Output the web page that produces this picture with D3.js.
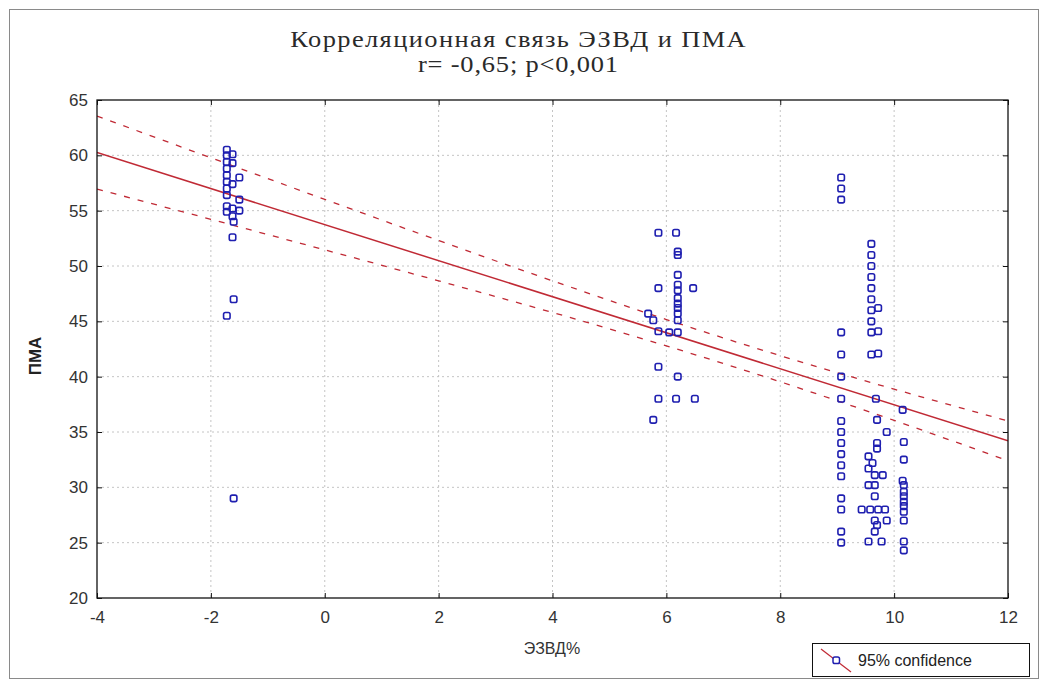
<!DOCTYPE html>
<html><head><meta charset="utf-8">
<script src="https://cdn.jsdelivr.net/npm/d3@7"></script>
<style>body{margin:0;background:#fff}svg{display:block}</style>
</head><body>
<svg id="c" width="1048" height="688"></svg>
<script>
// ---- data ----
const xTicks = [-4, -2, 0, 2, 4, 6, 8, 10, 12];
const yTicks = [20, 25, 30, 35, 40, 45, 50, 55, 60, 65];

// ЭЗВД% (x) and ПМА (y) for each observation
const ezvd = [
  -1.72,-1.62,-1.72,-1.72,-1.62,-1.72,-1.72,-1.50,-1.72,-1.62,-1.72,-1.72,-1.50,-1.72,-1.62,-1.72,-1.50,-1.62,-1.60,-1.62,-1.60,-1.72,-1.60,
  5.86,6.17,6.20,6.20,6.20,5.86,6.20,6.20,6.47,6.20,6.20,6.20,6.20,6.20,5.68,5.77,5.86,6.05,6.20,5.86,6.20,5.86,6.17,6.50,5.77,
  9.07,9.07,9.07,9.07,9.07,9.07,9.07,9.07,9.07,9.07,9.07,9.07,9.07,9.07,9.07,9.07,9.07,
  9.60,9.60,9.60,9.60,9.60,9.60,9.60,9.72,9.60,9.60,9.72,9.60,9.72,9.68,9.70,9.87,9.70,9.70,9.55,9.62,9.55,9.66,9.80,9.55,9.66,9.66,9.43,9.58,9.72,9.84,9.66,9.87,9.70,9.66,9.55,9.78,
  10.15,10.17,10.17,10.15,10.17,10.17,10.17,10.17,10.17,10.17,10.17,10.17,10.17
];
const pma = [
  60.5,60.1,60.0,59.4,59.3,58.8,58.2,58.0,57.6,57.4,57.0,56.4,56.0,55.4,55.2,54.9,55.0,54.5,54.0,52.6,47.0,45.5,29.0,
  53.0,53.0,51.3,51.0,49.2,48.0,48.3,47.8,48.0,47.1,46.6,46.2,45.7,45.1,45.7,45.1,44.1,44.0,44.0,40.9,40.0,38.0,38.0,38.0,36.1,
  58,57,56,44,42,40,38,36,35,34,33,32,31,29,28,26,25,
  52,51,50,49,48,47,46,46.2,45,44,44.1,42,42.1,38,36.1,35,34,33.5,32.8,32.2,31.7,31.1,31.1,30.2,30.2,29.2,28,28,28,28,27,27,26.6,26,25.1,25.1,
  37.0,34.1,32.5,30.6,30.2,29.6,29.2,28.7,28.3,27.8,27.0,25.1,24.3
];

// fitted regression line and 95% confidence band
const fitX = [-4, 12];
const fitY = [60.25, 34.2];
const bandX = [-4, -2, 0, 2, 4, 6, 8, 10, 12];
const bandUpper = [63.55, 59.78, 56.02, 52.30, 48.66, 45.16, 41.90, 38.87, 36.0];
const bandLower = [56.95, 54.22, 51.46, 48.66, 45.80, 42.78, 39.54, 36.05, 32.4];

const titleLine1 = "Корреляционная связь ЭЗВД и ПМА";
const titleLine2 = "r= -0,65; p<0,001";
const xLabel = "ЭЗВД%";
const yLabel = "ПМА";
const legendLabel = "95% confidence";

// ---- drawing ----
const svg = d3.select("#c");
const L = 97, R = 1008, T = 100, B = 598;
const x = d3.scaleLinear().domain([-4, 12]).range([L, R]);
const y = d3.scaleLinear().domain([20, 65]).range([B, T]);
const red = "#c02a35", blue = "#1f1fb0";

// outer frame
svg.append("rect").attr("x", 9.5).attr("y", 9.5).attr("width", 1029).attr("height", 669)
  .attr("fill", "none").attr("stroke", "#8a8a8a");

// grid
const grid = svg.append("g");
grid.selectAll("line.v").data(xTicks.slice(1, -1)).join("line")
  .attr("x1", d => x(d)).attr("x2", d => x(d)).attr("y1", T).attr("y2", B)
  .attr("stroke", "#c4c4c4").attr("stroke-dasharray", "2,3");
grid.selectAll("line.h").data(yTicks.slice(1, -1)).join("line")
  .attr("y1", d => y(d)).attr("y2", d => y(d)).attr("x1", L).attr("x2", R)
  .attr("stroke", "#c4c4c4").attr("stroke-dasharray", "2,3");

// clip
svg.append("clipPath").attr("id", "clip").append("rect")
  .attr("x", L).attr("y", T).attr("width", R - L).attr("height", B - T);
const plot = svg.append("g").attr("clip-path", "url(#clip)");

const band = d3.line().x(d => x(d[0])).y(d => y(d[1])).curve(d3.curveMonotoneX);
plot.append("path").attr("d", band(bandX.map((v, i) => [v, bandUpper[i]])))
  .attr("fill", "none").attr("stroke", red).attr("stroke-width", 1.3).attr("stroke-dasharray", "6,8");
plot.append("path").attr("d", band(bandX.map((v, i) => [v, bandLower[i]])))
  .attr("fill", "none").attr("stroke", red).attr("stroke-width", 1.3).attr("stroke-dasharray", "6,8");
plot.append("path").attr("d", d3.line().x(d => x(d[0])).y(d => y(d[1]))(fitX.map((v, i) => [v, fitY[i]])))
  .attr("fill", "none").attr("stroke", red).attr("stroke-width", 1.5);

// points
const s = 6.5;
svg.append("g").selectAll("rect").data(ezvd.map((v, i) => [v, pma[i]])).join("rect")
  .attr("x", d => x(d[0]) - s / 2).attr("y", d => y(d[1]) - s / 2)
  .attr("width", s).attr("height", s).attr("rx", 1.8)
  .attr("fill", "none").attr("stroke", blue).attr("stroke-width", 1.6);

// axes frame
svg.append("rect").attr("x", L).attr("y", T).attr("width", R - L).attr("height", B - T)
  .attr("fill", "none").attr("stroke", "#111").attr("stroke-width", 1.3);

const fmt = d => String(d);
const axL = svg.append("g").attr("transform", `translate(${L},0)`)
  .call(d3.axisLeft(y).tickValues(yTicks).tickFormat(fmt).tickSizeInner(-5).tickSizeOuter(0).tickPadding(9));
const axR = svg.append("g").attr("transform", `translate(${R},0)`)
  .call(d3.axisRight(y).tickValues(yTicks).tickSizeInner(-5).tickSizeOuter(0).tickFormat(""));
const axB = svg.append("g").attr("transform", `translate(0,${B})`)
  .call(d3.axisBottom(x).tickValues(xTicks).tickFormat(fmt).tickSizeInner(-5).tickSizeOuter(0).tickPadding(13));
const axT = svg.append("g").attr("transform", `translate(0,${T})`)
  .call(d3.axisTop(x).tickValues(xTicks).tickSizeInner(-5).tickSizeOuter(0).tickFormat(""));
[axL, axR, axB, axT].forEach(a => {
  a.select(".domain").remove();
  a.selectAll(".tick line").attr("stroke", "#111");
  a.selectAll("text").attr("font-family", "Liberation Sans, Arial, sans-serif")
    .attr("font-size", 17).attr("fill", "#333");
});

// titles (slightly widened serif, as in the reference)
const tg = svg.append("g").attr("transform", "translate(518,0) scale(1.15,1)");
tg.append("text").attr("x", 0).attr("y", 47).attr("text-anchor", "middle")
  .attr("font-family", "Liberation Serif, Times New Roman, serif").attr("font-size", 23).attr("fill", "#2a2a2a")
  .attr("textLength", 396).attr("lengthAdjust", "spacing").text(titleLine1);
tg.append("text").attr("x", 0).attr("y", 72).attr("text-anchor", "middle")
  .attr("font-family", "Liberation Serif, Times New Roman, serif").attr("font-size", 23).attr("fill", "#2a2a2a")
  .attr("textLength", 174).attr("lengthAdjust", "spacing").text(titleLine2);

svg.append("text").attr("x", 552).attr("y", 654).attr("text-anchor", "middle")
  .attr("font-family", "Liberation Sans, Arial, sans-serif").attr("font-size", 16).attr("fill", "#333")
  .text(xLabel);
svg.append("text").attr("transform", "translate(41,356) rotate(-90)").attr("text-anchor", "middle")
  .attr("font-family", "Liberation Sans, Arial, sans-serif").attr("font-size", 17).attr("fill", "#222")
  .attr("font-weight", "bold").text(yLabel);

// legend
const lg = svg.append("g");
lg.append("rect").attr("x", 812.5).attr("y", 643.5).attr("width", 217).attr("height", 33)
  .attr("fill", "#fff").attr("stroke", "#111");
lg.append("line").attr("x1", 821).attr("y1", 649).attr("x2", 851).attr("y2", 672)
  .attr("stroke", red).attr("stroke-width", 1.2);
lg.append("rect").attr("x", 833).attr("y", 657).attr("width", 6.5).attr("height", 6.5).attr("rx", 1.8)
  .attr("fill", "#fff").attr("stroke", blue).attr("stroke-width", 1.5);
lg.append("text").attr("x", 858).attr("y", 666)
  .attr("font-family", "Liberation Sans, Arial, sans-serif").attr("font-size", 16).attr("fill", "#222")
  .text(legendLabel);
</script>
</body></html>
